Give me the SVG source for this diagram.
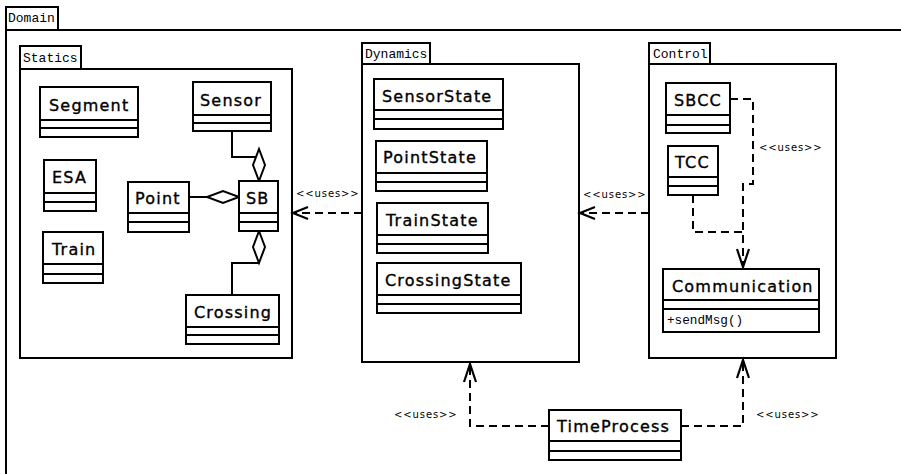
<svg xmlns="http://www.w3.org/2000/svg" width="901" height="474" viewBox="0 0 901 474">
  <style>
    .frame { fill: #fff; stroke: #000; stroke-width: 2; }
    .box { fill: #fff; stroke: #000; stroke-width: 2; }
    .sep { stroke: #000; stroke-width: 2; }
    .pkg { font-family: "Liberation Mono", "DejaVu Sans Mono", monospace; font-size: 13px; fill: #000; }
    .name { font-family: "DejaVu Sans", "Liberation Sans", sans-serif; font-size: 16px; letter-spacing: 1.2px; fill: #000; stroke: #000; stroke-width: 0.35; }
    .op { font-family: "Liberation Mono", "DejaVu Sans Mono", monospace; font-size: 12.7px; fill: #000; }
    .lbl { font-family: "DejaVu Sans", "Liberation Sans", sans-serif; font-size: 10px; letter-spacing: 0.9px; fill: #000; }
    .dep { fill: none; stroke: #000; stroke-width: 2; stroke-dasharray: 8 5; }
    .solid { fill: none; stroke: #000; stroke-width: 2; }
    .head { fill: none; stroke: #000; stroke-width: 2.2; stroke-linejoin: miter; }
    .dia { fill: #fff; stroke: #000; stroke-width: 2; }
  </style>

  <rect width="901" height="474" fill="#fff"/>

  <!-- Packages -->
  <g id="pkg-domain">
    <rect class="frame" x="6" y="7" width="52" height="23"/>
    <rect class="frame" x="6" y="30" width="910" height="460"/>
    <text class="pkg" x="8" y="22">Domain</text>
  </g>
  <g id="pkg-statics">
    <rect class="frame" x="20" y="46" width="61" height="23"/>
    <rect class="frame" x="20" y="69" width="272" height="289"/>
    <text class="pkg" x="23" y="62">Statics</text>
  </g>
  <g id="pkg-dynamics">
    <rect class="frame" x="362" y="43" width="68" height="21"/>
    <rect class="frame" x="362" y="64" width="217" height="298"/>
    <text class="pkg" x="365" y="58">Dynamics</text>
  </g>
  <g id="pkg-control">
    <rect class="frame" x="649" y="43" width="61" height="21"/>
    <rect class="frame" x="649" y="64" width="187" height="294"/>
    <text class="pkg" x="653" y="58">Control</text>
  </g>

  <!-- Connectors -->
  <g id="connectors">
    <!-- aggregations into SB -->
    <polyline class="solid" points="232,131 232,157 259,157"/>
    <polyline class="solid" points="232,295 232,263 259,263"/>
    <line class="solid" x1="189" y1="197" x2="207" y2="197"/>
    <polygon class="dia" points="259,181 265,165 259,149 253,165"/>
    <polygon class="dia" points="259,231 265,247 259,263 253,247"/>
    <polygon class="dia" points="239,197 223,191 207,197 223,203"/>

    <!-- Dynamics uses Statics -->
    <line class="dep" x1="362" y1="213" x2="294" y2="213"/>
    <polyline class="head" points="308,207 293,213 308,219"/>
    <text class="lbl" x="296" y="197">&lt;&lt;uses&gt;&gt;</text>

    <!-- Control uses Dynamics -->
    <line class="dep" x1="649" y1="213" x2="581" y2="213"/>
    <polyline class="head" points="595,207 580,213 595,219"/>
    <text class="lbl" x="583" y="198">&lt;&lt;uses&gt;&gt;</text>

    <!-- SBCC / TCC use Communication -->
    <polyline class="dep" points="730,99 753,99 753,184 743,184 743,267"/>
    <polyline class="dep" points="693,195 693,232 743,232"/>
    <polyline class="head" points="737,249 743,267 749,249"/>
    <text class="lbl" x="759" y="151">&lt;&lt;uses&gt;&gt;</text>

    <!-- TimeProcess uses Dynamics and Control -->
    <polyline class="dep" points="549,426 470,426 470,364"/>
    <polyline class="head" points="464,382 470,364 476,382"/>
    <text class="lbl" x="394" y="418">&lt;&lt;uses&gt;&gt;</text>
    <polyline class="dep" points="681,426 743,426 743,360"/>
    <polyline class="head" points="737,378 743,360 749,378"/>
    <text class="lbl" x="756" y="418">&lt;&lt;uses&gt;&gt;</text>
  </g>

  <!-- Statics classes -->
  <g id="cls-segment">
    <rect class="box" x="40" y="87" width="98" height="50"/>
    <line class="sep" x1="40" y1="120" x2="138" y2="120"/>
    <line class="sep" x1="40" y1="128" x2="138" y2="128"/>
    <text class="name" x="49" y="111">Segment</text>
  </g>
  <g id="cls-sensor">
    <rect class="box" x="193" y="82" width="78" height="49"/>
    <line class="sep" x1="193" y1="115" x2="271" y2="115"/>
    <line class="sep" x1="193" y1="123" x2="271" y2="123"/>
    <text class="name" x="200" y="106">Sensor</text>
  </g>
  <g id="cls-esa">
    <rect class="box" x="44" y="160" width="52" height="51"/>
    <line class="sep" x1="44" y1="193" x2="96" y2="193"/>
    <line class="sep" x1="44" y1="202" x2="96" y2="202"/>
    <text class="name" x="52" y="183">ESA</text>
  </g>
  <g id="cls-train">
    <rect class="box" x="43" y="232" width="60" height="51"/>
    <line class="sep" x1="43" y1="264" x2="103" y2="264"/>
    <line class="sep" x1="43" y1="274" x2="103" y2="274"/>
    <text class="name" x="52" y="255">Train</text>
  </g>
  <g id="cls-point">
    <rect class="box" x="128" y="182" width="61" height="50"/>
    <line class="sep" x1="128" y1="213" x2="189" y2="213"/>
    <line class="sep" x1="128" y1="222" x2="189" y2="222"/>
    <text class="name" x="135" y="204">Point</text>
  </g>
  <g id="cls-sb">
    <rect class="box" x="239" y="181" width="39" height="50"/>
    <line class="sep" x1="239" y1="213" x2="278" y2="213"/>
    <line class="sep" x1="239" y1="222" x2="278" y2="222"/>
    <text class="name" x="246" y="204">SB</text>
  </g>
  <g id="cls-crossing">
    <rect class="box" x="186" y="295" width="93" height="49"/>
    <line class="sep" x1="186" y1="327" x2="279" y2="327"/>
    <line class="sep" x1="186" y1="335" x2="279" y2="335"/>
    <text class="name" x="194" y="318">Crossing</text>
  </g>

  <!-- Dynamics classes -->
  <g id="cls-sensorstate">
    <rect class="box" x="374" y="79" width="129" height="50"/>
    <line class="sep" x1="374" y1="110" x2="503" y2="110"/>
    <line class="sep" x1="374" y1="119" x2="503" y2="119"/>
    <text class="name" x="382" y="102">SensorState</text>
  </g>
  <g id="cls-pointstate">
    <rect class="box" x="376" y="141" width="111" height="50"/>
    <line class="sep" x1="376" y1="173" x2="487" y2="173"/>
    <line class="sep" x1="376" y1="182" x2="487" y2="182"/>
    <text class="name" x="383" y="163">PointState</text>
  </g>
  <g id="cls-trainstate">
    <rect class="box" x="377" y="203" width="111" height="50"/>
    <line class="sep" x1="377" y1="235" x2="488" y2="235"/>
    <line class="sep" x1="377" y1="244" x2="488" y2="244"/>
    <text class="name" x="386" y="226">TrainState</text>
  </g>
  <g id="cls-crossingstate">
    <rect class="box" x="377" y="263" width="144" height="50"/>
    <line class="sep" x1="377" y1="295" x2="521" y2="295"/>
    <line class="sep" x1="377" y1="304" x2="521" y2="304"/>
    <text class="name" x="385" y="286">CrossingState</text>
  </g>

  <!-- Control classes -->
  <g id="cls-sbcc">
    <rect class="box" x="666" y="83" width="64" height="50"/>
    <line class="sep" x1="666" y1="115" x2="730" y2="115"/>
    <line class="sep" x1="666" y1="125" x2="730" y2="125"/>
    <text class="name" x="674" y="106">SBCC</text>
  </g>
  <g id="cls-tcc">
    <rect class="box" x="668" y="146" width="50" height="49"/>
    <line class="sep" x1="668" y1="177" x2="718" y2="177"/>
    <line class="sep" x1="668" y1="186" x2="718" y2="186"/>
    <text class="name" x="675" y="168">TCC</text>
  </g>
  <g id="cls-communication">
    <rect class="box" x="663" y="269" width="156" height="63"/>
    <line class="sep" x1="663" y1="300" x2="819" y2="300"/>
    <line class="sep" x1="663" y1="309" x2="819" y2="309"/>
    <text class="name" x="672" y="292">Communication</text>
    <text class="op" x="667" y="324">+sendMsg()</text>
  </g>

  <!-- Process -->
  <g id="cls-timeprocess">
    <rect class="box" x="549" y="410" width="132" height="50"/>
    <line class="sep" x1="549" y1="441" x2="681" y2="441"/>
    <line class="sep" x1="549" y1="451" x2="681" y2="451"/>
    <text class="name" x="557" y="432">TimeProcess</text>
  </g>
</svg>
